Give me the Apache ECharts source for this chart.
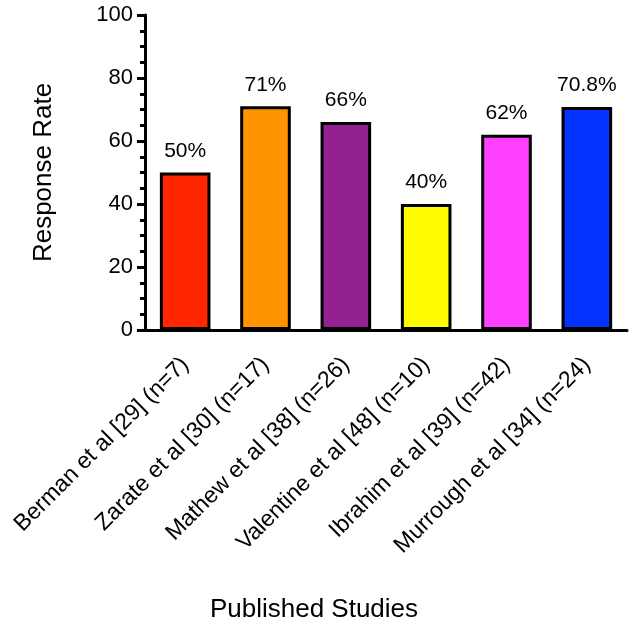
<!DOCTYPE html>
<html>
<head>
<meta charset="utf-8">
<script src="https://cdn.jsdelivr.net/npm/echarts@6/dist/echarts.min.js"></script>
<style>html,body{margin:0;padding:0;background:#fff}#c{width:635px;height:628px}</style>
</head>
<body>
<div id="c"></div>
<script>
const categories = ["Berman et al [29] (n=7)", "Zarate et al [30] (n=17)", "Mathew et al [38] (n=26)", "Valentine et al [48] (n=10)", "Ibrahim et al [39] (n=42)", "Murrough et al [34] (n=24)"];
const values = [50, 71, 66, 40, 62, 70.8];
const valueLabels = ["50%", "71%", "66%", "40%", "62%", "70.8%"];
const colors = ["#FF2600", "#FF9300", "#942192", "#FFFB00", "#FF40FF", "#0433FF"];
const yTicks = [0, 20, 40, 60, 80, 100];

const font = "Liberation Sans, Arial, Helvetica, sans-serif";
const chart = echarts.init(document.getElementById('c'));
chart.setOption({
  animation: false,
  grid: {left: 145, top: 15, right: 8, bottom: 292, containLabel: false},
  xAxis: {
    type: 'category',
    data: categories,
    name: 'Published Studies',
    nameLocation: 'middle',
    nameGap: 267,
    nameTextStyle: {fontFamily: font, fontSize: 26, color: '#000', padding: [0, 144, 0, 0]},
    axisLine: {lineStyle: {color: '#000', width: 3}},
    axisTick: {alignWithLabel: true, length: 8, lineStyle: {color: '#000', width: 3}},
    axisLabel: {rotate: 45, margin: 31, fontFamily: font, fontSize: 23, color: '#000', interval: 0}
  },
  yAxis: {
    type: 'value',
    min: yTicks[0],
    max: yTicks[yTicks.length - 1],
    interval: 20,
    name: 'Response Rate',
    nameLocation: 'middle',
    nameGap: 88,
    nameRotate: 90,
    nameTextStyle: {fontFamily: font, fontSize: 26, color: '#000'},
    axisLine: {show: true, lineStyle: {color: '#000', width: 3}},
    axisTick: {show: true, length: 8, lineStyle: {color: '#000', width: 3}},
    minorTick: {show: true, splitNumber: 4, length: 5, lineStyle: {color: '#000', width: 3}},
    splitLine: {show: false},
    axisLabel: {margin: 12, fontFamily: font, fontSize: 22, color: '#000'}
  },
  series: [{
    type: 'bar',
    barWidth: '63%',
    data: values.map((v, i) => ({value: v, itemStyle: {color: colors[i]}})),
    itemStyle: {borderColor: '#000', borderWidth: 3},
    label: {
      show: true, position: 'top', distance: 11,
      fontFamily: font, fontSize: 21, color: '#000',
      formatter: p => valueLabels[p.dataIndex]
    }
  }]
});
</script>
</body>
</html>
